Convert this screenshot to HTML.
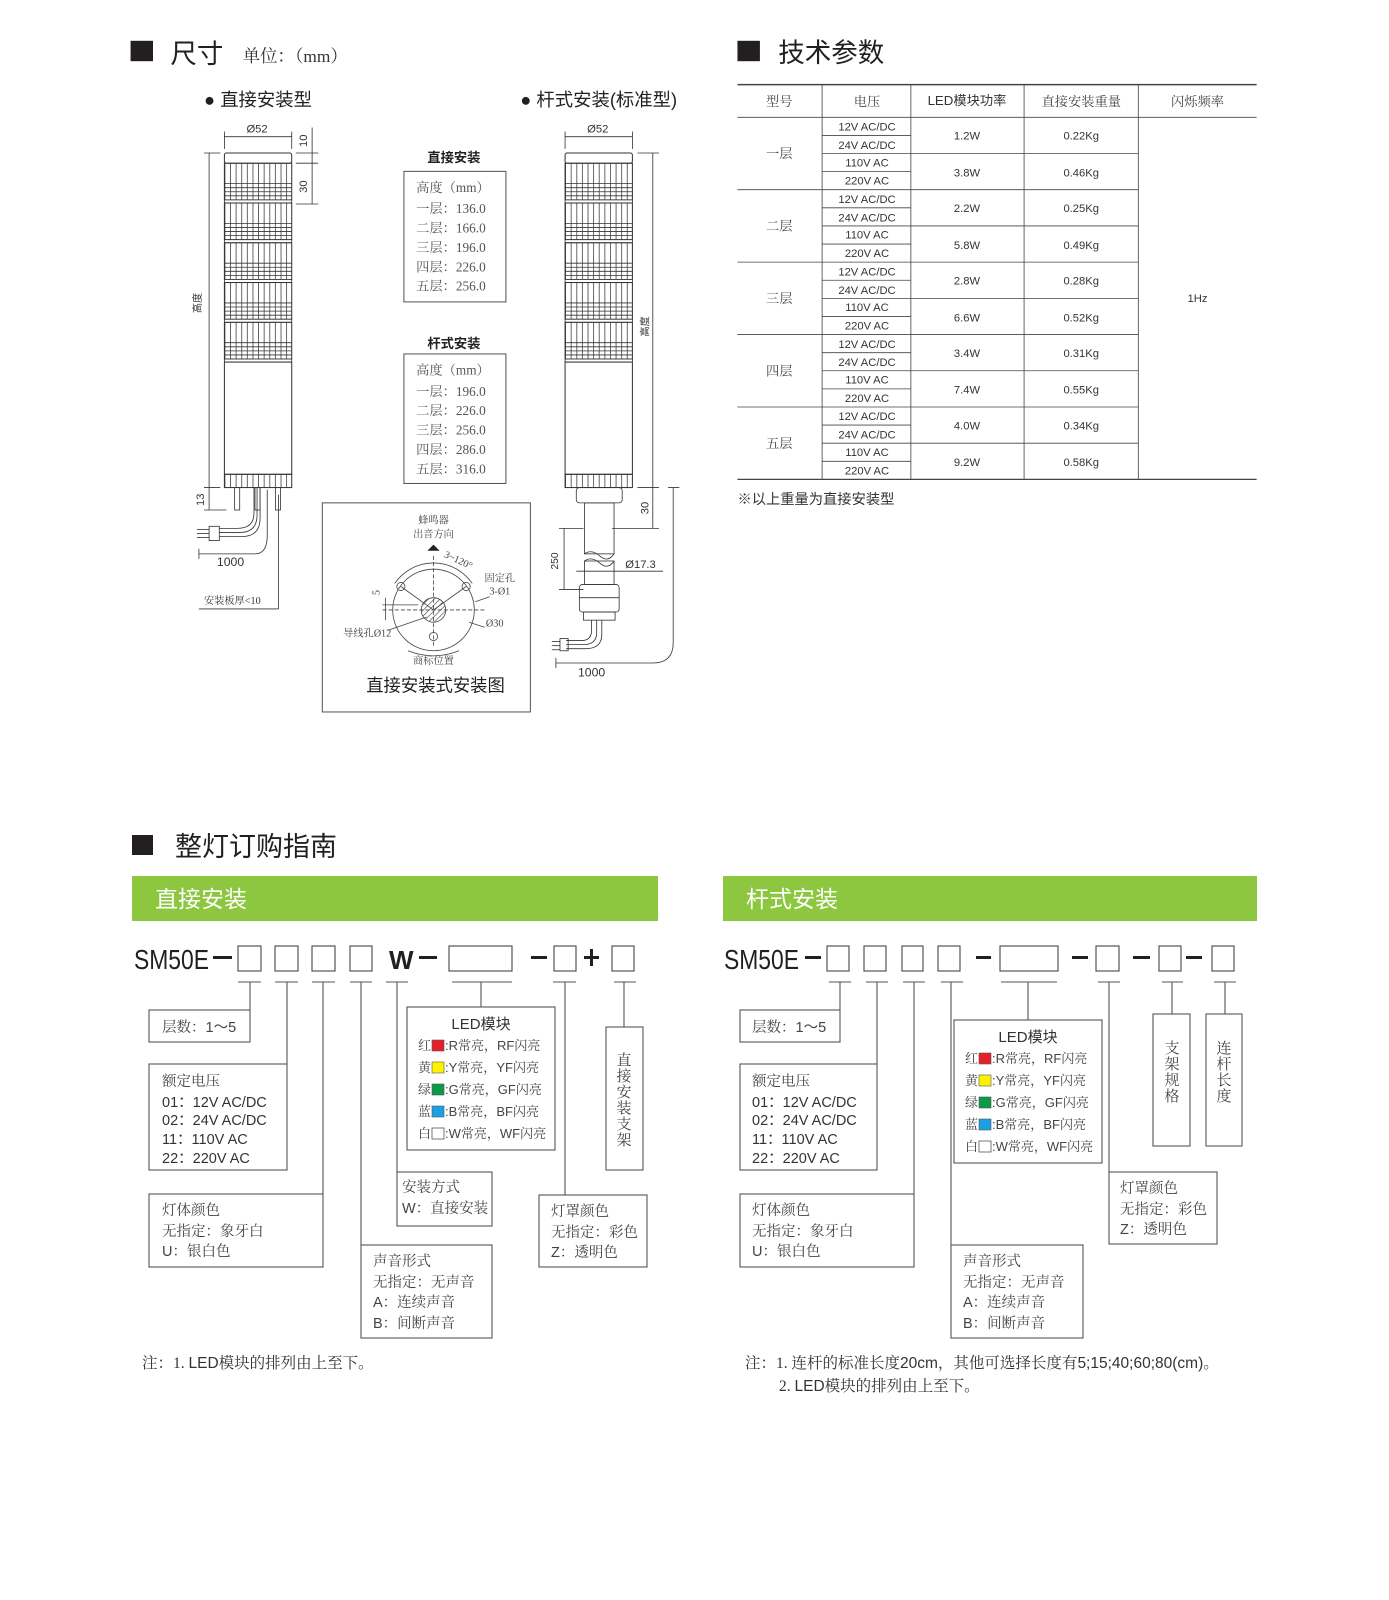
<!DOCTYPE html>
<html><head><meta charset="utf-8"><style>
html,body{margin:0;padding:0;background:#fff;}
svg{display:block;}
.s{font-family:"Liberation Sans","Noto Sans CJK SC",sans-serif;}
.r{font-family:"Liberation Serif","Noto Serif CJK SC",serif;}
</style></head><body>
<svg width="1389" height="1600" viewBox="0 0 1389 1600" xmlns="http://www.w3.org/2000/svg" class="s">
<defs>
<pattern id="ribs" width="5.5" height="10" patternUnits="userSpaceOnUse"><line x1="0.5" y1="0" x2="0.5" y2="10" stroke="#444" stroke-width="0.8"/></pattern>
<pattern id="hatch" width="4" height="4" patternUnits="userSpaceOnUse" patternTransform="rotate(45)"><line x1="0" y1="0" x2="0" y2="4" stroke="#444" stroke-width="1.2"/></pattern>
<g id="tier">
<rect x="0" y="0" width="66" height="36" fill="url(#ribs)" stroke="#333" stroke-width="1"/>
<line x1="0" y1="20" x2="66" y2="20" stroke="#333" stroke-width="0.8"/>
<line x1="0" y1="24" x2="66" y2="24" stroke="#333" stroke-width="0.8"/>
<line x1="0" y1="28" x2="66" y2="28" stroke="#333" stroke-width="0.8"/>
<line x1="0" y1="32" x2="66" y2="32" stroke="#333" stroke-width="0.8"/>
<rect x="0" y="36" width="66" height="3" fill="#fff" stroke="#333" stroke-width="0.8"/>
</g>
<g id="lamp">
<rect x="0" y="0" width="66" height="10" rx="2" fill="#fff" stroke="#333"/>
<use href="#tier" y="10"/><use href="#tier" y="49"/><use href="#tier" y="88"/><use href="#tier" y="127"/><use href="#tier" y="166"/>
<rect x="0" y="205" width="66" height="110" fill="#fff" stroke="#333"/>
<rect x="0" y="315" width="66" height="13" fill="url(#ribs)" stroke="#333"/>
</g>
</defs>

<g transform="scale(1.02)">
<rect x="128" y="40" width="22" height="20" fill="#231f20"/>
<text x="167" y="62" font-size="26" fill="#231f20">尺寸</text>
<text x="238" y="61" font-size="17" fill="#333" class="r">单位：（mm）</text>
<rect x="723" y="40" width="22" height="20" fill="#231f20"/>
<text x="763" y="61" font-size="26" fill="#231f20">技术参数</text>
<text x="200" y="104" font-size="18" fill="#231f20">● 直接安装型</text>
<text x="510" y="104" font-size="18" fill="#231f20">● 杆式安装(标准型)</text>

<g stroke="#333" stroke-width="0.8" fill="none">
<line x1="220" y1="134" x2="286" y2="134"/><line x1="220" y1="129" x2="220" y2="146"/><line x1="286" y1="129" x2="286" y2="146"/>
<line x1="306" y1="125" x2="306" y2="200"/><line x1="290" y1="150" x2="312" y2="150"/><line x1="290" y1="160" x2="312" y2="160"/><line x1="290" y1="200" x2="312" y2="200"/>
<line x1="205" y1="150" x2="205" y2="478"/><line x1="200" y1="150" x2="216" y2="150"/><line x1="200" y1="478" x2="216" y2="478"/>
<line x1="205" y1="478" x2="205" y2="500"/><line x1="200" y1="500" x2="222" y2="500"/>
<line x1="195" y1="538" x2="195" y2="548"/><line x1="195" y1="543" x2="250" y2="543"/>
<path d="M250 543 Q262 543 262 525 L262 480"/>
<line x1="195" y1="597" x2="273" y2="597"/><line x1="273" y1="597" x2="273" y2="485"/>
<rect x="230" y="478" width="5" height="22"/><rect x="250" y="478" width="5" height="22"/><rect x="270" y="478" width="5" height="22"/>
<path d="M252 478 L252 505 Q252 522 235 522 L215 522"/>
<path d="M255 478 L255 508 Q255 526 237 526 L215 526"/>
<path d="M249 478 L249 503 Q249 518 233 518 L215 518"/>
<rect x="205" y="516" width="10" height="14"/>
<line x1="193" y1="519" x2="205" y2="519"/><line x1="193" y1="523" x2="205" y2="523"/><line x1="193" y1="527" x2="205" y2="527"/>
<line x1="554" y1="134" x2="620" y2="134"/><line x1="554" y1="129" x2="554" y2="146"/><line x1="620" y1="129" x2="620" y2="146"/>
<line x1="640" y1="150" x2="640" y2="518"/><line x1="625" y1="150" x2="646" y2="150"/><line x1="625" y1="478" x2="646" y2="478"/><line x1="600" y1="518" x2="646" y2="518"/>
<line x1="553" y1="518" x2="553" y2="578"/><line x1="548" y1="518" x2="572" y2="518"/><line x1="548" y1="578" x2="572" y2="578"/>
<line x1="565" y1="560" x2="650" y2="560"/>
<path d="M545 645 L545 655 M545 650 L640 650 Q660 650 660 630 L660 478 M655 478 L666 478"/>
<rect x="565" y="478" width="45" height="15" rx="3"/>
<rect x="573" y="493" width="29" height="50"/>
<path d="M573 543 Q580 538 588 545 T602 543"/>
<path d="M573 550 Q580 545 588 552 T602 550"/>
<rect x="573" y="550" width="29" height="23"/>
<rect x="568" y="573" width="39" height="27" rx="3"/>
<line x1="568" y1="586" x2="607" y2="586"/>
<rect x="572" y="600" width="31" height="8"/>
<path d="M585 608 L585 620 Q585 632 572 632 L555 632"/>
<path d="M590 608 L590 622 Q590 636 574 636 L555 636"/>
<path d="M580 608 L580 618 Q580 628 570 628 L555 628"/>
<rect x="549" y="626" width="8" height="12"/>
<line x1="541" y1="629" x2="549" y2="629"/><line x1="541" y1="633" x2="549" y2="633"/><line x1="541" y1="637" x2="549" y2="637"/>
</g>
<use href="#lamp" x="220" y="150"/>
<use href="#lamp" x="554" y="150"/>
<g font-size="11" fill="#333">
<text x="252" y="130" text-anchor="middle">Ø52</text>
<text x="586" y="130" text-anchor="middle">Ø52</text>
<text transform="translate(301,138) rotate(-90)" text-anchor="middle">10</text>
<text transform="translate(301,183) rotate(-90)" text-anchor="middle">30</text>
<text transform="translate(197,297) rotate(-90)" text-anchor="middle" font-size="10">高度</text>
<text transform="translate(200,490) rotate(-90)" text-anchor="middle">13</text>
<text x="226" y="555" text-anchor="middle" font-size="12">1000</text>
<text x="200" y="592" font-size="10" class="r">安装板厚&lt;10</text>
<text transform="translate(636,320) rotate(-90)" text-anchor="middle" font-size="10">高度</text>
<text transform="translate(636,498) rotate(-90)" text-anchor="middle">30</text>
<text transform="translate(547,550) rotate(-90)" text-anchor="middle" font-size="10">250</text>
<text x="613" y="557" font-size="11">Ø17.3</text>
<text x="580" y="663" text-anchor="middle" font-size="12">1000</text>
</g>

<text x="445" y="159" font-size="13" font-weight="bold" text-anchor="middle" fill="#231f20">直接安装</text>
<rect x="396" y="168" width="100" height="128" fill="none" stroke="#555"/>
<g class="r" font-size="13" fill="#555">
<text x="408" y="188">高度（mm）</text><text x="408" y="209">一层：136.0</text><text x="408" y="228">二层：166.0</text><text x="408" y="247">三层：196.0</text><text x="408" y="266">四层：226.0</text><text x="408" y="285">五层：256.0</text>
</g>
<text x="445" y="341" font-size="13" font-weight="bold" text-anchor="middle" fill="#231f20">杆式安装</text>
<rect x="396" y="347" width="100" height="127" fill="none" stroke="#555"/>
<g class="r" font-size="13" fill="#555">
<text x="408" y="367">高度（mm）</text><text x="408" y="388">一层：196.0</text><text x="408" y="407">二层：226.0</text><text x="408" y="426">三层：256.0</text><text x="408" y="445">四层：286.0</text><text x="408" y="464">五层：316.0</text>
</g>

<rect x="316" y="493" width="204" height="205" fill="none" stroke="#555"/>
<g class="r" font-size="10" fill="#444" text-anchor="middle">
<text x="425" y="513">蜂鸣器</text><text x="425" y="527">出音方向</text>
<text x="490" y="570">固定孔</text><text x="490" y="583">3-Ø1</text>
<text x="360" y="624">导线孔Ø12</text><text x="485" y="614">Ø30</text>
<text x="425" y="651">商标位置</text>
<text transform="translate(448,552) rotate(25)">3~120°</text>
<text transform="translate(372,581) rotate(-90)">5</text>
</g>
<path d="M419 540 L425 534 L431 540 Z" fill="#222"/>
<g stroke="#444" stroke-width="0.8" fill="none">
<circle cx="425" cy="598" r="40"/>
<path d="M387 572 A46 46 0 0 1 463 572"/>
<circle cx="425" cy="598" r="12" fill="url(#hatch)"/>
<circle cx="393" cy="575" r="4"/><circle cx="457" cy="575" r="4"/><circle cx="425" cy="624" r="4"/>
<line x1="425" y1="545" x2="425" y2="635" stroke-dasharray="4 2"/>
<line x1="375" y1="598" x2="475" y2="598" stroke-dasharray="4 2"/>
<line x1="425" y1="598" x2="393" y2="575"/><line x1="425" y1="598" x2="457" y2="575"/>
<line x1="375" y1="593" x2="410" y2="593"/><line x1="378" y1="586" x2="378" y2="608"/>
<path d="M400 638 Q425 648 450 638"/>
<line x1="466" y1="590" x2="480" y2="585"/><line x1="460" y1="610" x2="475" y2="615"/>
<line x1="380" y1="618" x2="418" y2="605"/>
</g>
<text x="427" y="678" font-size="17" text-anchor="middle" fill="#231f20">直接安装式安装图</text>

<g stroke="#444" stroke-width="0.8">
<line x1="723" y1="83" x2="1232" y2="83" stroke-width="1.5"/>
<line x1="723" y1="115" x2="1232" y2="115"/>
<line x1="723" y1="470" x2="1232" y2="470" stroke-width="1.2"/>
<line x1="806" y1="83" x2="806" y2="470"/><line x1="893" y1="83" x2="893" y2="470"/><line x1="1004" y1="83" x2="1004" y2="470"/><line x1="1116" y1="83" x2="1116" y2="470"/>
<line x1="723" y1="186" x2="1116" y2="186"/><line x1="723" y1="257" x2="1116" y2="257"/><line x1="723" y1="328" x2="1116" y2="328"/><line x1="723" y1="399" x2="1116" y2="399"/>
<line x1="806" y1="150.5" x2="1116" y2="150.5"/><line x1="806" y1="221.5" x2="1116" y2="221.5"/><line x1="806" y1="292.5" x2="1116" y2="292.5"/><line x1="806" y1="363.5" x2="1116" y2="363.5"/><line x1="806" y1="434.5" x2="1116" y2="434.5"/>
<line x1="806" y1="132.75" x2="893" y2="132.75"/><line x1="806" y1="168.25" x2="893" y2="168.25"/>
<line x1="806" y1="203.75" x2="893" y2="203.75"/><line x1="806" y1="239.25" x2="893" y2="239.25"/>
<line x1="806" y1="274.75" x2="893" y2="274.75"/><line x1="806" y1="310.25" x2="893" y2="310.25"/>
<line x1="806" y1="345.75" x2="893" y2="345.75"/><line x1="806" y1="381.25" x2="893" y2="381.25"/>
<line x1="806" y1="416.75" x2="893" y2="416.75"/><line x1="806" y1="452.25" x2="893" y2="452.25"/>
</g>
<g font-size="13" fill="#444" text-anchor="middle" class="r">
<text x="764" y="104">型号</text><text x="850" y="104">电压</text><text x="1060" y="104">直接安装重量</text><text x="1174" y="104">闪烁频率</text>
<text x="764" y="155">一层</text><text x="764" y="226">二层</text><text x="764" y="297">三层</text><text x="764" y="368">四层</text><text x="764" y="439">五层</text>
</g>
<text x="948" y="103" font-size="13" fill="#333" text-anchor="middle">LED模块功率</text>
<g font-size="11" fill="#333" text-anchor="middle">
<text x="850" y="128">12V AC/DC</text><text x="850" y="146">24V AC/DC</text><text x="850" y="163">110V AC</text><text x="850" y="181">220V AC</text>
<text x="850" y="199">12V AC/DC</text><text x="850" y="217">24V AC/DC</text><text x="850" y="234">110V AC</text><text x="850" y="252">220V AC</text>
<text x="850" y="270">12V AC/DC</text><text x="850" y="288">24V AC/DC</text><text x="850" y="305">110V AC</text><text x="850" y="323">220V AC</text>
<text x="850" y="341">12V AC/DC</text><text x="850" y="359">24V AC/DC</text><text x="850" y="376">110V AC</text><text x="850" y="394">220V AC</text>
<text x="850" y="412">12V AC/DC</text><text x="850" y="430">24V AC/DC</text><text x="850" y="447">110V AC</text><text x="850" y="465">220V AC</text>
<text x="948" y="137">1.2W</text><text x="948" y="173">3.8W</text><text x="948" y="208">2.2W</text><text x="948" y="244">5.8W</text><text x="948" y="279">2.8W</text><text x="948" y="315">6.6W</text><text x="948" y="350">3.4W</text><text x="948" y="386">7.4W</text><text x="948" y="421">4.0W</text><text x="948" y="457">9.2W</text>
<text x="1060" y="137">0.22Kg</text><text x="1060" y="173">0.46Kg</text><text x="1060" y="208">0.25Kg</text><text x="1060" y="244">0.49Kg</text><text x="1060" y="279">0.28Kg</text><text x="1060" y="315">0.52Kg</text><text x="1060" y="350">0.31Kg</text><text x="1060" y="386">0.55Kg</text><text x="1060" y="421">0.34Kg</text><text x="1060" y="457">0.58Kg</text>
<text x="1174" y="296">1Hz</text>
</g>
<text x="723" y="494" font-size="14" fill="#333">※以上重量为直接安装型</text>
</g>

<rect x="132" y="835" width="21" height="20" fill="#231f20"/>
<text x="175" y="856" font-size="27" fill="#231f20">整灯订购指南</text>
<rect x="132" y="876" width="526" height="45" fill="#8dc63f"/>
<text x="155" y="907" font-size="23" fill="#fff">直接安装</text>
<rect x="723" y="876" width="534" height="45" fill="#8dc63f"/>
<text x="746" y="907" font-size="23" fill="#fff">杆式安装</text>

<g font-family="'Liberation Sans Narrow','Liberation Sans',sans-serif" font-size="28" fill="#231f20">
<text x="134" y="969" textLength="75" lengthAdjust="spacingAndGlyphs">SM50E</text>
<text x="389" y="969" font-size="26" font-weight="bold">W</text>
<text x="724" y="969" textLength="75" lengthAdjust="spacingAndGlyphs">SM50E</text>
</g>
<g fill="#231f20">
<rect x="213" y="956" width="19" height="3"/><rect x="419" y="956" width="18" height="3"/><rect x="531" y="956" width="16" height="3"/>
<rect x="584" y="956" width="15" height="3"/><rect x="590" y="949" width="3" height="17"/>
<rect x="805" y="956" width="16" height="3"/><rect x="976" y="956" width="15" height="3"/><rect x="1072" y="956" width="16" height="3"/><rect x="1133" y="956" width="17" height="3"/><rect x="1186" y="956" width="16" height="3"/>
</g>
<g fill="none" stroke="#555" stroke-width="1.2">
<rect x="238" y="946" width="23" height="25"/><rect x="275" y="946" width="23" height="25"/><rect x="312" y="946" width="23" height="25"/><rect x="350" y="946" width="22" height="25"/>
<rect x="449" y="946" width="63" height="25"/><rect x="554" y="946" width="22" height="25"/><rect x="612" y="946" width="22" height="25"/>
<rect x="827" y="946" width="22" height="25"/><rect x="864" y="946" width="22" height="25"/><rect x="902" y="946" width="21" height="25"/><rect x="938" y="946" width="22" height="25"/>
<rect x="1000" y="946" width="58" height="25"/><rect x="1096" y="946" width="23" height="25"/><rect x="1159" y="946" width="22" height="25"/><rect x="1212" y="946" width="22" height="25"/>
</g>
<g fill="none" stroke="#555" stroke-width="1.1">
<path d="M238 982 H261 M275 982 H298 M312 982 H335 M350 982 H372 M386 982 H408 M452 982 H512 M553 982 H576 M614 982 H636"/>
<path d="M250 982 V1010 M287 982 V1064 M323 982 V1194 M361 982 V1245 M397 982 V1172 M481 982 V1007 M565 982 V1195 M624 982 V1027"/>
<rect x="149" y="1010" width="101" height="32"/>
<rect x="149" y="1064" width="138" height="106"/>
<rect x="149" y="1194" width="174" height="73"/>
<rect x="361" y="1245" width="131" height="93"/>
<rect x="397" y="1172" width="95" height="54"/>
<rect x="407" y="1007" width="148" height="143"/>
<rect x="606" y="1027" width="37" height="143"/>
<rect x="539" y="1195" width="108" height="72"/>
<path d="M829 982 H851 M866 982 H888 M903 982 H925 M941 982 H963 M1001 982 H1057 M1098 982 H1120 M1162 982 H1183 M1214 982 H1236"/>
<path d="M840 982 V1010 M877 982 V1064 M914 982 V1194 M951 982 V1245 M1028 982 V1020 M1109 982 V1172 M1172 982 V1014 M1225 982 V1014"/>
<rect x="740" y="1010" width="100" height="32"/>
<rect x="740" y="1064" width="137" height="106"/>
<rect x="740" y="1194" width="174" height="73"/>
<rect x="951" y="1245" width="132" height="93"/>
<rect x="954" y="1020" width="148" height="143"/>
<rect x="1109" y="1172" width="108" height="72"/>
<rect x="1153" y="1014" width="37" height="132"/>
<rect x="1206" y="1014" width="36" height="132"/>
</g>

<g font-size="14.5" fill="#444" class="r">
<text x="162" y="1032">层数：<tspan class="s">1～5</tspan></text>
<text x="162" y="1086">额定电压</text>
<text x="162" y="1107" class="s" fill="#333">01：12V  AC/DC</text>
<text x="162" y="1125" class="s" fill="#333">02：24V  AC/DC</text>
<text x="162" y="1144" class="s" fill="#333">11：110V  AC</text>
<text x="162" y="1163" class="s" fill="#333">22：220V  AC</text>
<text x="162" y="1215">灯体颜色</text><text x="162" y="1236">无指定：象牙白</text><text x="162" y="1256"><tspan class="s">U</tspan>：银白色</text>
<text x="373" y="1266">声音形式</text><text x="373" y="1287">无指定：无声音</text><text x="373" y="1307"><tspan class="s">A</tspan>：连续声音</text><text x="373" y="1328"><tspan class="s">B</tspan>：间断声音</text>
<text x="402" y="1192">安装方式</text><text x="402" y="1213"><tspan class="s">W</tspan>：直接安装</text>
<text x="551" y="1216">灯罩颜色</text><text x="551" y="1237">无指定：彩色</text><text x="551" y="1257"><tspan class="s">Z</tspan>：透明色</text>
<text x="752" y="1032">层数：<tspan class="s">1～5</tspan></text>
<text x="752" y="1086">额定电压</text>
<text x="752" y="1107" class="s" fill="#333">01：12V  AC/DC</text>
<text x="752" y="1125" class="s" fill="#333">02：24V  AC/DC</text>
<text x="752" y="1144" class="s" fill="#333">11：110V  AC</text>
<text x="752" y="1163" class="s" fill="#333">22：220V  AC</text>
<text x="752" y="1215">灯体颜色</text><text x="752" y="1236">无指定：象牙白</text><text x="752" y="1256"><tspan class="s">U</tspan>：银白色</text>
<text x="963" y="1266">声音形式</text><text x="963" y="1287">无指定：无声音</text><text x="963" y="1307"><tspan class="s">A</tspan>：连续声音</text><text x="963" y="1328"><tspan class="s">B</tspan>：间断声音</text>
<text x="1120" y="1193">灯罩颜色</text><text x="1120" y="1214">无指定：彩色</text><text x="1120" y="1234"><tspan class="s">Z</tspan>：透明色</text>
</g>
<g font-size="15" fill="#444" class="r" text-anchor="middle">
<text x="624" y="1065">直</text><text x="624" y="1081">接</text><text x="624" y="1097">安</text><text x="624" y="1113">装</text><text x="624" y="1129">支</text><text x="624" y="1145">架</text>
<text x="1172" y="1053">支</text><text x="1172" y="1069">架</text><text x="1172" y="1085">规</text><text x="1172" y="1101">格</text>
<text x="1224" y="1053">连</text><text x="1224" y="1069">杆</text><text x="1224" y="1085">长</text><text x="1224" y="1101">度</text>
</g>
<g font-size="13" fill="#444">
<text x="481" y="1029" text-anchor="middle" font-size="15" fill="#333">LED模块</text>
<g transform="translate(418,1007)">
<text x="0" y="43" class="r">红</text><rect x="14" y="33" width="12" height="11" fill="#e5202a" stroke="#555" stroke-width="0.6"/><text x="27" y="43">:R<tspan class="r">常亮，</tspan>RF<tspan class="r">闪亮</tspan></text>
<text x="0" y="65" class="r">黄</text><rect x="14" y="55" width="12" height="11" fill="#fff200" stroke="#555" stroke-width="0.6"/><text x="27" y="65">:Y<tspan class="r">常亮，</tspan>YF<tspan class="r">闪亮</tspan></text>
<text x="0" y="87" class="r">绿</text><rect x="14" y="77" width="12" height="11" fill="#0a9a48" stroke="#555" stroke-width="0.6"/><text x="27" y="87">:G<tspan class="r">常亮，</tspan>GF<tspan class="r">闪亮</tspan></text>
<text x="0" y="109" class="r">蓝</text><rect x="14" y="99" width="12" height="11" fill="#1ba1e2" stroke="#555" stroke-width="0.6"/><text x="27" y="109">:B<tspan class="r">常亮，</tspan>BF<tspan class="r">闪亮</tspan></text>
<text x="0" y="131" class="r">白</text><rect x="14" y="121" width="12" height="11" fill="#fff" stroke="#555" stroke-width="0.8"/><text x="27" y="131">:W<tspan class="r">常亮，</tspan>WF<tspan class="r">闪亮</tspan></text>
</g>
<text x="1028" y="1042" text-anchor="middle" font-size="15" fill="#333">LED模块</text>
<g transform="translate(965,1020)">
<text x="0" y="43" class="r">红</text><rect x="14" y="33" width="12" height="11" fill="#e5202a" stroke="#555" stroke-width="0.6"/><text x="27" y="43">:R<tspan class="r">常亮，</tspan>RF<tspan class="r">闪亮</tspan></text>
<text x="0" y="65" class="r">黄</text><rect x="14" y="55" width="12" height="11" fill="#fff200" stroke="#555" stroke-width="0.6"/><text x="27" y="65">:Y<tspan class="r">常亮，</tspan>YF<tspan class="r">闪亮</tspan></text>
<text x="0" y="87" class="r">绿</text><rect x="14" y="77" width="12" height="11" fill="#0a9a48" stroke="#555" stroke-width="0.6"/><text x="27" y="87">:G<tspan class="r">常亮，</tspan>GF<tspan class="r">闪亮</tspan></text>
<text x="0" y="109" class="r">蓝</text><rect x="14" y="99" width="12" height="11" fill="#1ba1e2" stroke="#555" stroke-width="0.6"/><text x="27" y="109">:B<tspan class="r">常亮，</tspan>BF<tspan class="r">闪亮</tspan></text>
<text x="0" y="131" class="r">白</text><rect x="14" y="121" width="12" height="11" fill="#fff" stroke="#555" stroke-width="0.8"/><text x="27" y="131">:W<tspan class="r">常亮，</tspan>WF<tspan class="r">闪亮</tspan></text>
</g>
</g>

<g font-size="15.5" fill="#333">
<text x="142" y="1368"><tspan class="r">注：1. </tspan>LED<tspan class="r">模块的排列由上至下。</tspan></text>
<text x="745" y="1368"><tspan class="r">注：1. 连杆的标准长度</tspan>20cm<tspan class="r">，其他可选择长度有</tspan>5;15;40;60;80(cm)<tspan class="r">。</tspan></text>
<text x="779" y="1391"><tspan class="r">2. </tspan>LED<tspan class="r">模块的排列由上至下。</tspan></text>
</g>
</svg>
</body></html>
